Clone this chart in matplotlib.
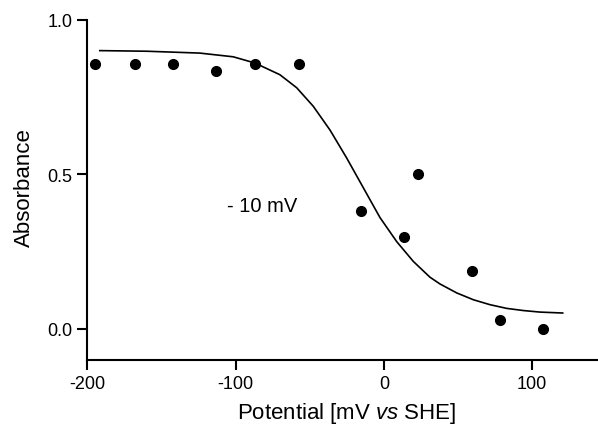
import numpy as np
import matplotlib
matplotlib.use("Agg")
import matplotlib.pyplot as plt

# measured points
potential = [-195, -168, -142, -113.5, -87, -57.4, -15.5, 13.3, 23.2, 59.2, 78.3, 107.2]
absorbance = [0.857, 0.857, 0.857, 0.834, 0.857, 0.857, 0.380, 0.296, 0.501, 0.188, 0.030, 0.000]

# fitted curve
fit_x = [-191.7, -160, -124.2, -101.7, -87.1, -70.2, -58.9, -47.7, -36.4, -25.2,
         -14.0, -2.7, 8.6, 19.8, 31.0, 37.8, 49.1, 60.3, 71.5, 82.8, 94.0, 105.3, 120.6]
fit_y = [0.900, 0.898, 0.892, 0.880, 0.860, 0.822, 0.780, 0.720, 0.643, 0.553,
         0.457, 0.360, 0.282, 0.218, 0.167, 0.145, 0.116, 0.094, 0.078, 0.066,
         0.059, 0.054, 0.051]

x_ticks = [-200, -100, 0, 100]
y_ticks = [0.0, 0.5, 1.0]

plt.rcParams['font.family'] = ['Liberation Sans', 'DejaVu Sans']
plt.rcParams['mathtext.fontset'] = 'custom'
plt.rcParams['mathtext.rm'] = 'Liberation Sans'
plt.rcParams['mathtext.it'] = 'Liberation Sans:italic'


def main():
    fig = plt.figure(figsize=(5.98, 4.27), dpi=100)
    ax = fig.add_axes([0.1463, 0.1553, 0.8537, 0.7962])

    ax.plot(fit_x, fit_y, color='black', lw=1.2, solid_joinstyle='round')
    ax.plot(potential, absorbance, 'o', color='black', ms=7, linestyle='')

    ax.set_xlim(-200, 144.4)
    ax.set_ylim(-0.1, 1.0)
    ax.set_xticks(x_ticks)
    ax.set_yticks(y_ticks)
    ax.set_xticklabels([str(t) for t in x_ticks])
    ax.set_yticklabels(["%.1f" % t for t in y_ticks])

    for s in ['top', 'right']:
        ax.spines[s].set_visible(False)
    for s in ['left', 'bottom']:
        ax.spines[s].set_linewidth(1.5)
    ax.tick_params(direction='out', length=7, width=1.5, labelsize=13, pad=4)

    ax.set_xlabel('Potential [mV $\\it{vs}$ SHE]', fontsize=16, va='center')
    ax.xaxis.set_label_coords(0.5077, -0.1568)
    ax.set_ylabel('Absorbance', fontsize=16, va='center')
    ax.yaxis.set_label_coords(-0.1234, 0.508)

    ax.text(-106, 0.398, '- 10 mV', fontsize=14.5, ha='left', va='center')

    fig.savefig('out.png', dpi=100)


if __name__ == "__main__":
    main()
